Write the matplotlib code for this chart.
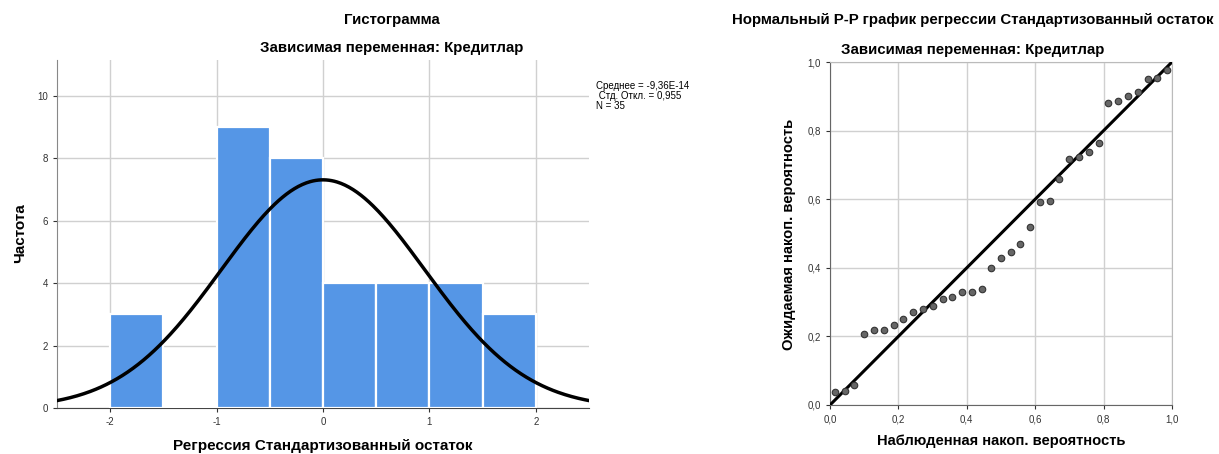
import numpy as np
import matplotlib
matplotlib.use("Agg")
import matplotlib.pyplot as plt

plt.rcParams['font.family'] = ['Liberation Sans', 'DejaVu Sans']
plt.rcParams['axes.unicode_minus'] = False

# histogram of standardized residuals
bin_edges = [-2.0, -1.5, -1.0, -0.5, 0.0, 0.5, 1.0, 1.5, 2.0]
counts = [3, 0, 9, 8, 4, 4, 4, 3]
mean_res = -9.36e-14
std_res = 0.955
n_obs = 35

# P-P plot points
observed_cum = [0.014, 0.043, 0.071, 0.100, 0.129, 0.157, 0.186, 0.214, 0.243, 0.271,
                0.300, 0.329, 0.357, 0.386, 0.414, 0.443, 0.471, 0.500, 0.529, 0.557,
                0.586, 0.614, 0.643, 0.671, 0.700, 0.729, 0.757, 0.786, 0.814, 0.843,
                0.871, 0.900, 0.929, 0.957, 0.986]
expected_cum = [0.037, 0.042, 0.058, 0.207, 0.219, 0.219, 0.234, 0.251, 0.271, 0.281,
                0.290, 0.309, 0.314, 0.328, 0.330, 0.337, 0.399, 0.428, 0.447, 0.470,
                0.520, 0.592, 0.596, 0.659, 0.716, 0.723, 0.738, 0.764, 0.880, 0.885,
                0.901, 0.913, 0.949, 0.952, 0.977]

bar_color = '#5596E6'
grid_color = '#d0d0d0'
tick_color = '#333333'
W, H = 1219, 454

fig = plt.figure(figsize=(12.19, 4.54), dpi=100)

# ---- histogram ----
ax1 = fig.add_axes([57/W, 46/H, 532/W, 348/H])
widths = np.diff(bin_edges)
ax1.bar(bin_edges[:-1], counts, width=widths, align='edge', color=bar_color,
        edgecolor='white', linewidth=1.6, zorder=3)
xs = np.linspace(-2.5, 2.5, 400)
bw = widths[0]
curve = n_obs * bw / (std_res * np.sqrt(2 * np.pi)) * np.exp(-0.5 * ((xs - mean_res) / std_res) ** 2)
ax1.plot(xs, curve, color='black', lw=2.5, zorder=4)
ax1.set_xlim(-2.5, 2.5)
ax1.set_ylim(0, 11.15)
ax1.set_xticks([-2, -1, 0, 1, 2])
ax1.set_yticks([0, 2, 4, 6, 8, 10])
ax1.grid(True, color=grid_color, lw=1, zorder=0)
for s in ['top', 'right']:
    ax1.spines[s].set_visible(False)
ax1.spines['left'].set_color('#888888')
ax1.spines['bottom'].set_color('#444444')
ax1.tick_params(labelsize=7, colors=tick_color, length=3, width=0.8)

fig.text(323/W, 1 - 446/H, 'Регрессия Стандартизованный остаток', ha='center', va='center',
         fontsize=11, fontweight='bold')
fig.text(20/W, 1 - 233/H, 'Частота', ha='center', va='center', rotation=90,
         fontsize=11, fontweight='bold')
fig.text(392/W, 1 - 20/H, 'Гистограмма', ha='center', va='center', fontsize=10.8, fontweight='bold')
fig.text(392/W, 1 - 48/H, 'Зависимая переменная: Кредитлар', ha='center', va='center',
         fontsize=10.8, fontweight='bold')
fig.text(596/W, 1 - 96/H, 'Среднее = -9,36E-14\n Стд. Откл. = 0,955\nN = 35',
         ha='left', va='center', fontsize=7, linespacing=0.95)

# ---- P-P plot ----
ax2 = fig.add_axes([830/W, 49/H, 342/W, 343/H])
ax2.plot([0, 1], [0, 1], color='black', lw=2.2, zorder=3)
ax2.scatter(observed_cum, expected_cum, s=22, color='#666666', edgecolor='#333333',
            linewidth=0.8, zorder=4)
ax2.set_xlim(0, 1)
ax2.set_ylim(0, 1)
ticks = [0, 0.2, 0.4, 0.6, 0.8, 1.0]
ax2.set_xticks(ticks)
ax2.set_yticks(ticks)
ax2.set_xticklabels(['0,0', '0,2', '0,4', '0,6', '0,8', '1,0'])
ax2.set_yticklabels(['0,0', '0,2', '0,4', '0,6', '0,8', '1,0'])
ax2.grid(True, color=grid_color, lw=1, zorder=0)
for s in ['top', 'right']:
    ax2.spines[s].set_color('#bbbbbb')
ax2.spines['left'].set_color('#666666')
ax2.spines['bottom'].set_color('#666666')
ax2.tick_params(labelsize=7, colors=tick_color, length=3, width=0.8)

fig.text(1001/W, 1 - 441/H, 'Наблюденная накоп. вероятность', ha='center', va='center',
         fontsize=10.6, fontweight='bold')
fig.text(789/W, 1 - 234/H, 'Ожидаемая накоп. вероятность', ha='center', va='center',
         rotation=90, fontsize=10.6, fontweight='bold')
fig.text(973/W, 1 - 20/H, 'Нормальный P-P график регрессии Стандартизованный остаток',
         ha='center', va='center', fontsize=10.8, fontweight='bold')
fig.text(973/W, 1 - 50/H, 'Зависимая переменная: Кредитлар', ha='center', va='center',
         fontsize=10.8, fontweight='bold')

fig.savefig('out.png', dpi=100)
